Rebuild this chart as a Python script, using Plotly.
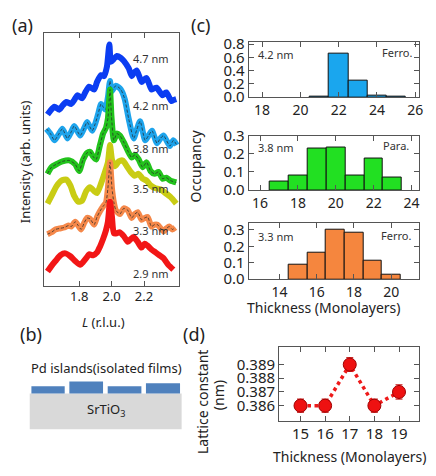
import plotly.graph_objects as go

W, H = 436, 476

# ---------------- Panel (a): XRD curves (L in r.l.u., intensity arb. units incl. offset)
L_47 = [1.604,1.622,1.647,1.678,1.696,1.720,1.751,1.769,1.788,1.818,1.837,1.861,1.892,1.910,1.935,1.953,1.971,1.986,1.996,2.014,2.032,2.057,2.075,2.106,2.124,2.136,2.155,2.185,2.198,2.216,2.246,2.259,2.277,2.314,2.326,2.338,2.369,2.381,2.399]
I_47 = [179,183,187,184,188,192,190,194,199,196,202,208,205,213,220,219,229,252,234,237,240,238,235,227,219,222,225,213,215,217,205,206,207,199,201,202,193,194,195]

L_42 = [1.598,1.622,1.647,1.672,1.696,1.727,1.751,1.769,1.806,1.831,1.849,1.880,1.898,1.916,1.935,1.947,1.962,1.977,1.990,1.999,2.026,2.057,2.081,2.106,2.136,2.155,2.176,2.207,2.228,2.249,2.280,2.301,2.320,2.360,2.381,2.402]
I_42 = [164,159,152,158,164,154,161,167,157,165,171,162,169,179,190,187,184,197,214,203,209,205,195,174,154,163,172,152,157,162,149,154,157,146,152,147]

L_38 = [1.604,1.629,1.659,1.696,1.739,1.775,1.800,1.824,1.849,1.867,1.886,1.904,1.928,1.947,1.965,1.977,1.990,1.999,2.014,2.032,2.051,2.075,2.100,2.124,2.143,2.167,2.191,2.216,2.240,2.265,2.289,2.314,2.338,2.363,2.399]
I_38 = [117,124,127,130,131,127,120,132,139,140,135,132,147,159,165,175,205,177,152,159,157,150,141,134,137,132,124,129,120,117,119,112,113,110,108]

L_35 = [1.604,1.629,1.659,1.690,1.720,1.745,1.769,1.794,1.818,1.843,1.867,1.892,1.910,1.935,1.959,1.977,1.990,2.002,2.020,2.045,2.069,2.094,2.118,2.143,2.167,2.191,2.216,2.240,2.271,2.301,2.332,2.363,2.399]
I_35 = [86,94,104,110,111,105,94,88,89,99,103,99,97,107,119,129,147,132,125,130,131,125,119,115,117,112,110,105,102,101,97,93,86]

L_33 = [1.604,1.629,1.653,1.678,1.708,1.733,1.751,1.775,1.794,1.812,1.831,1.849,1.867,1.892,1.910,1.928,1.947,1.965,1.977,1.990,2.002,2.014,2.026,2.051,2.075,2.100,2.124,2.143,2.161,2.185,2.204,2.222,2.246,2.265,2.283,2.320,2.338,2.356,2.375,2.393]
I_33 = [54,56,59,60,61,63,62,67,63,59,66,71,70,64,72,78,83,87,102,129,102,87,79,75,81,79,71,75,77,69,71,72,62,64,64,57,60,62,59,61]

L_29 = [1.604,1.629,1.653,1.684,1.714,1.745,1.775,1.806,1.824,1.843,1.861,1.886,1.910,1.928,1.947,1.965,1.977,1.990,2.002,2.014,2.032,2.051,2.075,2.100,2.118,2.136,2.161,2.185,2.204,2.222,2.246,2.271,2.295,2.320,2.350,2.381]
I_29 = [15,21,26,32,34,31,26,22,25,29,33,32,35,41,49,58,67,88,72,55,55,56,52,46,49,51,46,40,44,42,38,35,32,29,22,17]

curve_labels = ["4.7 nm", "4.2 nm", "3.8 nm", "3.5 nm", "3.3 nm", "2.9 nm"]
a_ticks = [1.8, 2.0, 2.2]
a_ticktext = ["1.8", "2.0", "2.2"]

# ---------------- Panel (c): histograms
thick_42 = [21, 22, 23, 24, 25]
occ_42 = [0.005, 0.661, 0.249, 0.019, 0.01]
thick_38 = [17, 18, 19, 20, 21, 22, 23]
occ_38 = [0.05, 0.08, 0.23, 0.235, 0.08, 0.175, 0.07]
thick_33 = [15, 16, 17, 18, 19, 20]
occ_33 = [0.091, 0.159, 0.30, 0.286, 0.112, 0.029]

# ---------------- Panel (d): lattice constant
thick_d = [15, 16, 17, 18, 19]
latt_d = [0.386, 0.386, 0.389, 0.386, 0.387]
err_d = [0.00048, 0.00048, 0.0005, 0.00048, 0.00052]

FONT = "Noto Sans"
AX = "#555555"

def px(x):
    return x / W

def py(y):
    return 1 - y / H

fig = go.Figure()

colors_a = ["#0b3df2", "#1ea4ec", "#22c31c", "#c9cc14", "#f5884a", "#f21616"]
series_a = [(L_47, I_47), (L_42, I_42), (L_38, I_38), (L_35, I_35), (L_33, I_33), (L_29, I_29)]
dashed = [False, True, True, False, True, False]
for (Ls, Is), c, d in zip(series_a, colors_a, dashed):
    fig.add_trace(go.Scatter(x=Ls, y=Is, mode="lines", xaxis="x", yaxis="y",
                             line=dict(color=c, width=6, shape="spline", smoothing=0.6),
                             showlegend=False, hoverinfo="skip"))
    if d:
        fig.add_trace(go.Scatter(x=Ls, y=Is, mode="lines", xaxis="x", yaxis="y",
                                 line=dict(color="rgba(40,40,40,0.75)", width=1, dash="3px,2px",
                                           shape="spline", smoothing=0.6),
                                 showlegend=False, hoverinfo="skip"))

# histograms
hists = [(thick_42, occ_42, "#1aa6ee", "x2", "y2"),
         (thick_38, occ_38, "#22e022", "x3", "y3"),
         (thick_33, occ_33, "#f5863e", "x4", "y4")]
for t, o, c, xa, ya in hists:
    fig.add_trace(go.Bar(x=t, y=o, width=1.0, xaxis=xa, yaxis=ya,
                         marker=dict(color=c, line=dict(color="#111111", width=1)),
                         showlegend=False, hoverinfo="skip"))

# lattice constant
fig.add_trace(go.Scatter(x=thick_d, y=latt_d, mode="lines+markers", xaxis="x5", yaxis="y5",
                         line=dict(color="#ee1a1a", width=3.5, dash="dot"),
                         marker=dict(size=13, color="#ee1111", line=dict(color="#a00000", width=1)),
                         error_y=dict(type="data", array=err_d, color="#c00000", thickness=1, width=3.5),
                         showlegend=False, hoverinfo="skip"))

def axis_common(**kw):
    base = dict(showline=True, linecolor=AX, linewidth=1, mirror="ticks", ticks="inside",
                ticklen=5, tickcolor=AX, showgrid=False, zeroline=False,
                tickfont=dict(family=FONT, size=14, color="#222"))
    base.update(kw)
    return base

layout = dict(
    width=W, height=H, margin=dict(l=0, r=0, t=0, b=0),
    paper_bgcolor="white", plot_bgcolor="white", bargap=0,
    xaxis=axis_common(domain=[px(44), px(181)], range=[1.580, 2.418], anchor="y",
                      tickvals=a_ticks, ticktext=a_ticktext, ticklabelstandoff=-2,
                      tickfont=dict(family=FONT, size=13, color="#222")),
    yaxis=axis_common(domain=[py(287), py(23)], range=[0, 264], anchor="x",
                      ticks="", showticklabels=False, mirror=True),
    xaxis2=axis_common(domain=[px(251), px(423)], range=[17.3, 26.2], anchor="y2",
                       tickvals=[18, 20, 22, 24, 26], ticklabelstandoff=0),
    yaxis2=axis_common(domain=[py(90), py(32)], range=[0, 0.837], anchor="x2",
                       tickvals=[0, 0.2, 0.4, 0.6, 0.8], tickformat=".1f",
                       tickfont=dict(family=FONT, size=15, color="#222")),
    xaxis3=axis_common(domain=[px(251), px(423)], range=[15.4, 24.4], anchor="y3",
                       tickvals=[16, 18, 20, 22, 24], ticklabelstandoff=0),
    yaxis3=axis_common(domain=[py(187), py(130)], range=[0, 0.3], anchor="x3",
                       tickvals=[0, 0.1, 0.2, 0.3], tickformat=".1f",
                       tickfont=dict(family=FONT, size=15, color="#222")),
    xaxis4=axis_common(domain=[px(251), px(423)], range=[12.35, 21.5], anchor="y4",
                       tickvals=[14, 16, 18, 20], ticklabelstandoff=0),
    yaxis4=axis_common(domain=[py(280), py(221)], range=[0, 0.344], anchor="x4",
                       tickvals=[0, 0.1, 0.2, 0.3], tickformat=".1f",
                       tickfont=dict(family=FONT, size=15, color="#222")),
    xaxis5=axis_common(domain=[px(281.7), px(423)], range=[14.131, 19.817], anchor="y5",
                       tickvals=[15, 16, 17, 18, 19], ticklabelstandoff=-1,
                       tickfont=dict(family=FONT, size=15, color="#222")),
    yaxis5=axis_common(domain=[py(428), py(351)], range=[0.38488, 0.39026], anchor="x5",
                       tickvals=[0.386, 0.387, 0.388, 0.389], tickformat=".3f",
                       tickfont=dict(family=FONT, size=15, color="#222")),
)

ann = []
def A(text, x, y, size=13, angle=0, color="#222"):
    ann.append(dict(text=text, x=px(x), y=py(y), xref="paper", yref="paper",
                    showarrow=False, xanchor="center", yanchor="middle", textangle=angle,
                    font=dict(family=FONT, size=size, color=color)))

A("(a)", 23, 15, 18)
A("(b)", 31, 337, 18)
A("(c)", 202, 15, 18)
A("(d)", 196, 337, 18)
A("Intensity (arb. units)", 26, 157, 13, -90)
A("<i>L</i> (r.l.u.)", 104, 325, 13)
A("Occupancy", 197, 162, 14, -90)
A("Thickness (Monolayers)", 327, 309, 14)
A("Thickness (Monolayers)", 353, 465, 14)
A("Lattice constant", 205, 408, 14, -90)
A("(nm)", 220, 401, 14, -90)
A("Pd islands(isolated films)", 107, 373, 13)
A("SrTiO<sub>3</sub>", 107, 416, 13)

for lab, yy in zip(curve_labels, [50, 99, 144, 185, 229, 274]):
    A(lab, 152, yy, 11, 0, "#333")

A("4.2 nm", 278, 45, 11, 0, "#333")
A("Ferro.", 401, 43, 11, 0, "#333")
A("3.8 nm", 278, 143, 11, 0, "#333")
A("Para.", 400, 140, 11, 0, "#333")
A("3.3 nm", 278, 235, 11, 0, "#333")
A("Ferro.", 400, 234, 11, 0, "#333")

layout["annotations"] = ann

# Panel (b) schematic
shapes = []
def R(x0, y0, x1, y1, color):
    shapes.append(dict(type="rect", xref="paper", yref="paper", x0=px(x0), x1=px(x1),
                       y0=py(y1), y1=py(y0), fillcolor=color, line=dict(width=0), layer="above"))

R(30, 399.3, 183.3, 436.7, "#d9d9d9")
R(31.7, 391.7, 65.3, 399.3, "#4f81bd")
R(70, 386.7, 104, 399.3, "#4f81bd")
R(108.7, 391.7, 142.7, 399.3, "#4f81bd")
R(147.3, 388.7, 181.7, 399.3, "#4f81bd")
layout["shapes"] = shapes

fig.update_layout(**layout)
fig.write_html("out.html", config={"displayModeBar": False},
               post_script="document.body.style.margin='0';document.body.style.overflow='hidden';")
